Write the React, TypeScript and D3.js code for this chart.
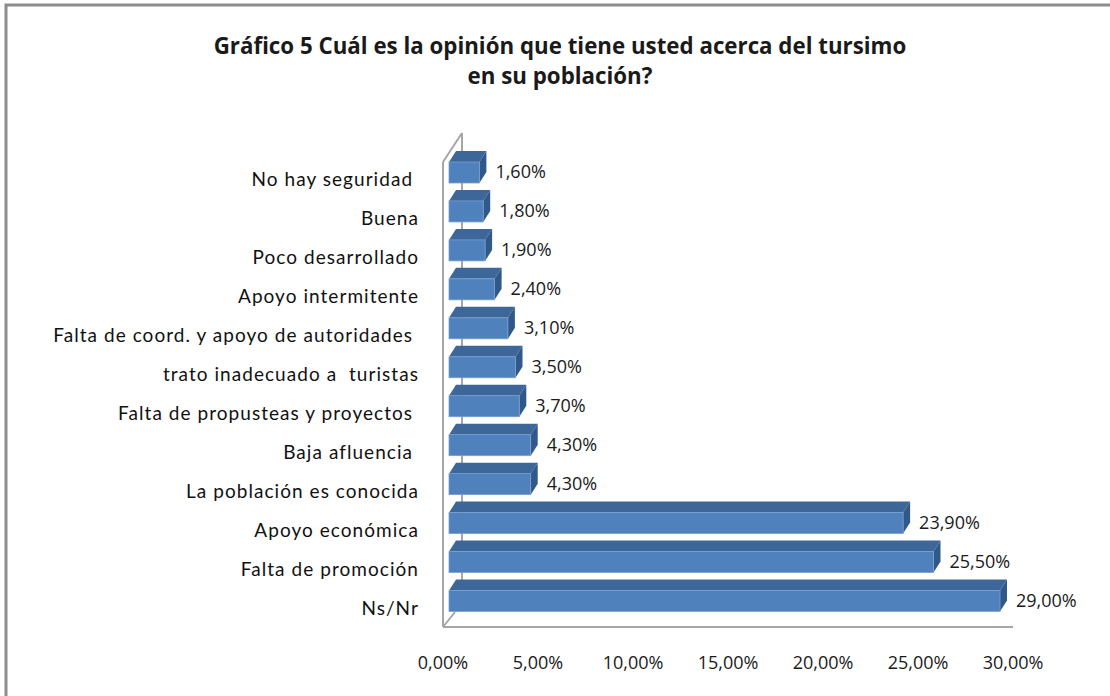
import React, { useEffect, useRef } from "react";
import * as d3 from "d3";

const categories = [
  "No hay seguridad ",
  "Buena",
  "Poco desarrollado",
  "Apoyo intermitente",
  "Falta de coord. y apoyo de autoridades ",
  "trato inadecuado a  turistas",
  "Falta de propusteas y proyectos ",
  "Baja afluencia ",
  "La población es conocida",
  "Apoyo económica",
  "Falta de promoción",
  "Ns/Nr",
];
const values = [1.6, 1.8, 1.9, 2.4, 3.1, 3.5, 3.7, 4.3, 4.3, 23.9, 25.5, 29.0];
const ticks = [0, 5, 10, 15, 20, 25, 30];
const titleLines = [
  "Gráfico 5 Cuál es la opinión que tiene usted acerca del tursimo",
  "en su población?",
];

const width = 1110;
const height = 696;

const fmt = (v: number) => v.toFixed(2).replace(".", ",") + "%";

const App = () => {
  const svgRef = useRef(null);

  useEffect(() => {
    const svg = d3.select(svgRef.current);
    svg.selectAll("*").remove();

    const x = d3.scaleLinear().domain([0, 30]).range([443, 1013]);
    const y = d3.scalePoint().domain(categories).range([172.5, 601]);
    const barH = 21;
    const depthX = 7;
    const depthY = 11;
    const barShift = 6;

    // chart border
    svg
      .append("rect")
      .attr("x", 6)
      .attr("y", 5)
      .attr("width", width + 20)
      .attr("height", height + 20)
      .attr("fill", "#fff")
      .attr("stroke", "#8c8c8c")
      .attr("stroke-width", 3);

    // title
    svg
      .append("text")
      .attr("text-anchor", "middle")
      .attr("font-family", "'Open Sans', sans-serif")
      .attr("font-weight", "700")
      .attr("font-size", 22.3)
      .attr("fill", "#1a1a1a")
      .selectAll("tspan")
      .data(titleLines)
      .join("tspan")
      .attr("x", 560)
      .attr("y", (_, i) => 54 + i * 30)
      .text((d) => d);

    // 3D axis walls
    const axisColor = "#a6a6a6";
    const g = svg.append("g").attr("fill", "none").attr("stroke", axisColor).attr("stroke-width", 2);
    g.append("line").attr("x1", x(0) + 19).attr("y1", 133).attr("x2", x(0) + 19).attr("y2", 612);
    g.append("line").attr("x1", x(0)).attr("y1", 162).attr("x2", x(0) + 19).attr("y2", 133);
    g.append("line").attr("x1", x(0)).attr("y1", 162).attr("x2", x(0)).attr("y2", 627);
    g.append("line").attr("x1", x(0)).attr("y1", 627).attr("x2", x(0) + 12).attr("y2", 612);
    g.append("line").attr("x1", x(0)).attr("y1", 627).attr("x2", x(30)).attr("y2", 627);

    // bars
    const bars = svg
      .append("g")
      .selectAll("g")
      .data(categories.map((c, i) => ({ c, v: values[i] })))
      .join("g");

    bars
      .append("path")
      .attr("fill", "#3d6799")
      .attr("d", (d) => {
        const x0 = x(0) + barShift;
        const x1 = x(d.v) + barShift;
        const t = (y(d.c) as number) - barH / 2;
        return `M${x0},${t} L${x0 + depthX},${t - depthY} L${x1 + depthX},${t - depthY} L${x1},${t} Z`;
      });

    bars
      .append("path")
      .attr("fill", "#30598a")
      .attr("d", (d) => {
        const x1 = x(d.v) + barShift;
        const t = (y(d.c) as number) - barH / 2;
        return `M${x1},${t} L${x1 + depthX},${t - depthY} L${x1 + depthX},${t - depthY + barH} L${x1},${t + barH} Z`;
      });

    bars
      .append("rect")
      .attr("x", x(0) + barShift)
      .attr("y", (d) => (y(d.c) as number) - barH / 2)
      .attr("width", (d) => x(d.v) - x(0))
      .attr("height", barH)
      .attr("fill", "#4f81bd")
      .attr("stroke", "#7a9fd0")
      .attr("stroke-width", 0.8);

    // value labels
    bars
      .append("text")
      .attr("x", (d) => x(d.v) + barShift + 16)
      .attr("y", (d) => (y(d.c) as number) + 1)
      .attr("dominant-baseline", "middle")
      .attr("font-family", "'Open Sans', sans-serif")
      .attr("font-size", 18)
      .attr("fill", "#1a1a1a")
      .text((d) => fmt(d.v));

    // category labels
    svg
      .append("g")
      .selectAll("text")
      .data(categories)
      .join("text")
      .attr("x", 419)
      .attr("y", (d) => (y(d) as number) + 9)
      .attr("text-anchor", "end")
      .attr("dominant-baseline", "middle")
      .attr("font-family", "Lato, sans-serif")
      .attr("font-size", 19)
      .attr("letter-spacing", 1.05)
      .attr("xml:space", "preserve")
      .style("white-space", "pre")
      .attr("fill", "#111")
      .text((d) => d);

    // x tick labels
    svg
      .append("g")
      .selectAll("text")
      .data(ticks)
      .join("text")
      .attr("x", (d) => x(d))
      .attr("y", 664)
      .attr("text-anchor", "middle")
      .attr("dominant-baseline", "middle")
      .attr("font-family", "'Open Sans', sans-serif")
      .attr("font-size", 18)
      .attr("fill", "#1a1a1a")
      .text((d) => fmt(d));
  }, []);

  return (
    <svg
      ref={svgRef}
      width={width}
      height={height}
      style={{ position: "absolute", left: 0, top: 0, background: "#fff" }}
    />
  );
};

export default App;
